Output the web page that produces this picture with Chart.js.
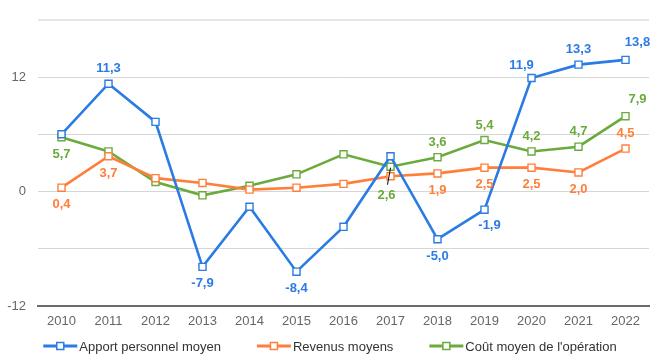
<!DOCTYPE html>
<html>
<head>
<meta charset="utf-8">
<script src="https://cdn.jsdelivr.net/npm/chart.js@4"></script>
<style>
  html, body { margin: 0; padding: 0; background: #fff; }
  #wrap { width: 664px; height: 364px; }
</style>
</head>
<body>
<div id="wrap"><canvas id="chart" width="664" height="364"></canvas></div>
<script>
// years on the x axis
const years = ['2010','2011','2012','2013','2014','2015','2016','2017','2018','2019','2020','2021','2022'];

// series values (%)
const apport  = [6.0, 11.3, 7.3, -7.9, -1.6, -8.4, -3.7, 3.7, -5.0, -1.9, 11.9, 13.3, 13.8];
const revenus = [0.4, 3.7, 1.4, 0.9, 0.2, 0.4, 0.8, 1.6, 1.9, 2.5, 2.5, 2.0, 4.5];
const cout    = [5.7, 4.2, 1.0, -0.4, 0.6, 1.8, 3.9, 2.6, 3.6, 5.4, 4.2, 4.7, 7.9];

const seriesNames = ['Apport personnel moyen', 'Revenus moyens', "Coût moyen de l'opération"];

// y axis ticks
const yMin = -12, yMax = 18, yStep = 6;
const yShown = [-12, 0, 12];

// where each value label sits ('' = no label)
const placeApport  = ['', 'a', '', 'b', '', 'b', '', '', 'b', 'br', 'al', 'a', 'ar'];
const placeRevenus = ['b', 'b', '', '', '', '', '', '', 'b', 'b', 'b', 'b', 'a'];
const placeCout    = ['b', '', '', '', '', '', '', 'leader', 'a', 'a', 'a', 'a', 'ar'];

const FONT = "'Liberation Sans', Arial, sans-serif";
const blue = '#2a7be4', orange = '#ff7f3a', green = '#6aab3c';

const offsets = {
  a: [0, -15], b: [0, 17], al: [-10, -13], ar: [12, -17], br: [5, 16], leader: [-4, 29]
};

const valueLabels = {
  id: 'valueLabels',
  afterDatasetsDraw(chart) {
    const ctx = chart.ctx;
    ctx.save();
    ctx.font = 'bold 13px ' + FONT;
    ctx.textAlign = 'center';
    ctx.textBaseline = 'middle';
    chart.data.datasets.forEach((ds, di) => {
      const meta = chart.getDatasetMeta(di);
      meta.data.forEach((pt, i) => {
        const code = ds.labelPlace[i];
        if (!code) return;
        const o = offsets[code];
        if (code === 'leader') {
          ctx.strokeStyle = '#000';
          ctx.lineWidth = 1;
          ctx.beginPath();
          ctx.moveTo(pt.x, pt.y + 1);
          ctx.lineTo(pt.x - 3, pt.y + 18);
          ctx.stroke();
        }
        ctx.fillStyle = ds.borderColor;
        ctx.fillText(ds.data[i].toFixed(1).replace('.', ','), pt.x + o[0], pt.y + o[1]);
      });
    });
    ctx.restore();
  }
};

const lineLegend = {
  id: 'lineLegend',
  afterDraw(chart) {
    const ctx = chart.ctx;
    const y = 346, lineW = 34, gap = 36;
    ctx.save();
    ctx.font = '13px ' + FONT;
    ctx.textBaseline = 'middle';
    const widths = chart.data.datasets.map(ds => lineW + 2 + ctx.measureText(ds.label).width);
    const total = widths.reduce((s, w) => s + w, 0) + gap * (widths.length - 1);
    let x = (chart.width - total) / 2 - 2;
    chart.data.datasets.forEach((ds, i) => {
      ctx.strokeStyle = ds.borderColor;
      ctx.lineWidth = 3;
      ctx.beginPath();
      ctx.moveTo(x, y);
      ctx.lineTo(x + lineW, y);
      ctx.stroke();
      ctx.fillStyle = '#fff';
      ctx.lineWidth = 1.5;
      ctx.fillRect(x + lineW / 2 - 3.5, y - 3.5, 7, 7);
      ctx.strokeRect(x + lineW / 2 - 3.5, y - 3.5, 7, 7);
      ctx.fillStyle = '#333';
      ctx.fillText(ds.label, x + lineW + 2, y + 1);
      x += widths[i] + gap;
    });
    ctx.restore();
  }
};

function series(label, data, color, place) {
  return {
    label: label,
    data: data,
    borderColor: color,
    backgroundColor: color,
    borderWidth: 2.6,
    tension: 0,
    pointStyle: 'rect',
    pointRadius: 5,
    pointBorderWidth: 1.4,
    pointBackgroundColor: '#fff',
    pointBorderColor: color,
    labelPlace: place
  };
}

new Chart(document.getElementById('chart'), {
  type: 'line',
  data: {
    labels: years,
    datasets: [
      series(seriesNames[0], apport, blue, placeApport),
      series(seriesNames[1], revenus, orange, placeRevenus),
      series(seriesNames[2], cout, green, placeCout)
    ]
  },
  options: {
    responsive: false,
    animation: false,
    layout: { autoPadding: false, padding: { top: 16, right: 15, bottom: 28, left: 0 } },
    plugins: {
      legend: { display: false },
      tooltip: { enabled: false }
    },
    scales: {
      x: {
        offset: true,
        grid: { display: false, drawTicks: false },
        border: { display: true, color: '#6b6b6b', width: 2 },
        ticks: { color: '#666', font: { family: FONT, size: 13 }, padding: 8, maxRotation: 0 },
        afterFit(scale) { scale.height = 30; }
      },
      y: {
        min: yMin,
        max: yMax,
        border: { display: false },
        grid: {
          drawTicks: false,
          color: c => c.tick.value === yMin ? 'rgba(0,0,0,0)' : (c.tick.value === yMax ? '#e6e6e6' : '#d6d6d6'),
          lineWidth: c => c.tick.value === yMax ? 2 : 1
        },
        ticks: {
          stepSize: yStep,
          color: '#666',
          font: { family: FONT, size: 13 },
          padding: 12,
          callback: v => yShown.includes(v) ? String(v) : ''
        },
        afterFit(scale) { scale.width = 38; }
      }
    }
  },
  plugins: [valueLabels, lineLegend]
});
</script>
</body>
</html>
